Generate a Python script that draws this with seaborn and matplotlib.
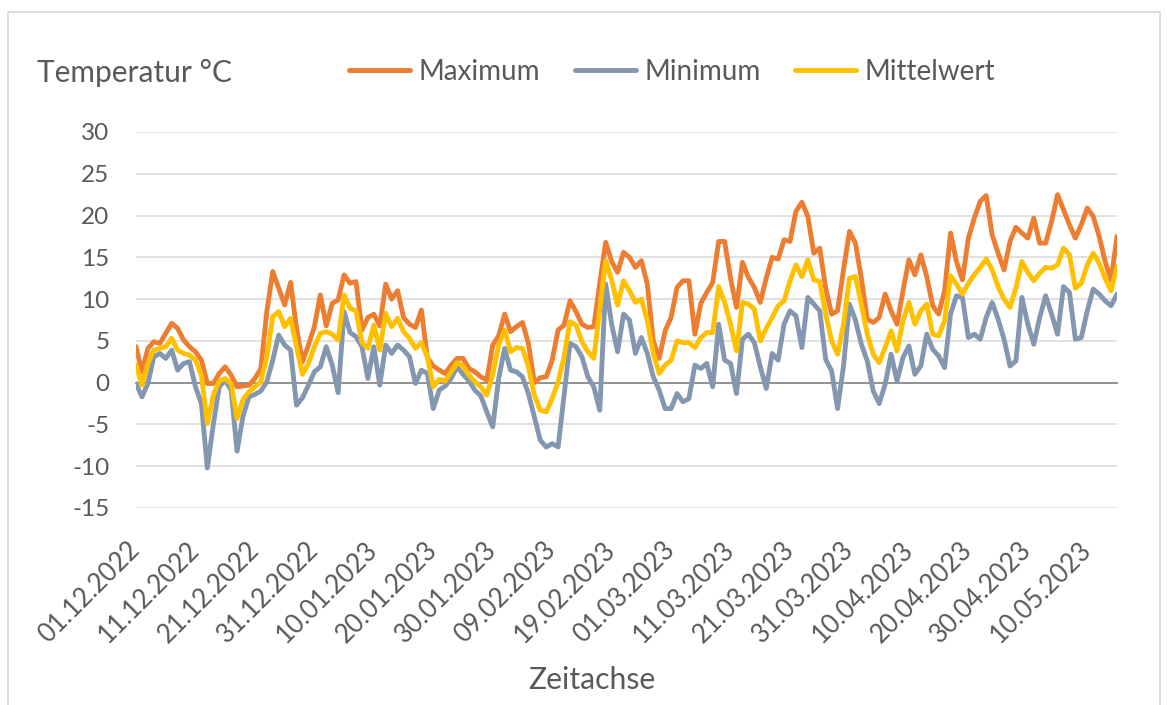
import numpy as np
import pandas as pd
import matplotlib
matplotlib.use("Agg")
import matplotlib.pyplot as plt
from matplotlib.lines import Line2D
from matplotlib.patches import Rectangle
import seaborn as sns

# ---------------- data ----------------
start_date = "2022-12-01"

maximum = [
    4.3, 1.3, 4.1, 4.9, 4.7, 5.9, 7.1, 6.5, 5.1, 4.3,
    3.7, 2.7, -0.1, -0.1, 1.1, 1.9, 0.9, -0.5, -0.4, -0.3,
    0.5, 1.7, 8.5, 13.3, 11.3, 9.3, 12.0, 6.5, 2.5, 4.5,
    6.7, 10.5, 6.8, 9.5, 9.9, 12.9, 11.9, 12.1, 6.3, 7.8,
    8.2, 6.8, 11.8, 10.0, 11.0, 7.8, 7.0, 6.6, 8.7, 3.0,
    2.0, 1.5, 1.1, 2.1, 2.9, 2.9, 1.7, 1.3, 0.7, 0.3,
    4.5, 5.6, 8.2, 6.1, 6.7, 7.2, 4.7, 0.0, 0.6, 0.7,
    2.7, 6.3, 6.9, 9.8, 8.5, 7.0, 6.6, 6.7, 11.9, 16.8,
    14.5, 13.2, 15.6, 15.0, 13.8, 14.6, 11.8, 5.0, 2.9, 6.2,
    7.8, 11.4, 12.2, 12.2, 5.8, 9.5, 10.8, 12.0, 16.9, 16.9,
    12.5, 9.0, 14.4, 12.6, 11.4, 9.6, 12.5, 15.0, 14.8, 17.1,
    16.9, 20.5, 21.6, 19.9, 15.5, 16.1, 11.3, 8.2, 8.6, 13.5,
    18.1, 16.7, 12.5, 7.6, 7.2, 7.8, 10.6, 8.6, 7.0, 11.0,
    14.7, 12.9, 15.3, 12.7, 9.2, 8.2, 11.0, 17.9, 14.5, 12.3,
    17.3, 19.7, 21.7, 22.4, 17.7, 15.5, 13.5, 16.9, 18.6, 17.9,
    17.3, 19.7, 16.7, 16.7, 19.3, 22.5, 20.7, 18.9, 17.3, 18.9,
    20.9, 19.9, 17.5, 14.5, 12.3, 17.5,
]

minimum = [
    -0.1, -1.7, -0.1, 3.1, 3.5, 2.9, 3.9, 1.5, 2.3, 2.5,
    -0.5, -2.5, -10.2, -5.0, -0.5, 0.3, -0.9, -8.2, -4.0, -1.7,
    -1.4, -1.0, 0.1, 2.7, 5.7, 4.5, 3.9, -2.7, -1.8, -0.3,
    1.3, 1.9, 4.3, 2.1, -1.2, 8.5, 6.0, 5.5, 4.3, 0.5,
    4.3, -0.3, 4.5, 3.5, 4.5, 3.9, 3.1, -0.1, 1.5, 1.1,
    -3.1, -0.9, -0.4, 0.5, 1.9, 1.0, 0.2, -0.9, -1.6, -3.5,
    -5.3, 0.5, 4.1, 1.5, 1.3, 0.7, -1.3, -4.1, -6.9, -7.7,
    -7.3, -7.7, -1.5, 4.7, 4.3, 3.1, 0.7, -0.5, -3.3, 11.8,
    7.0, 3.7, 8.2, 7.5, 3.5, 5.4, 3.5, 0.7, -0.9, -3.1,
    -3.1, -1.3, -2.3, -1.9, 2.1, 1.7, 2.3, -0.5, 7.0, 2.7,
    2.3, -1.3, 5.2, 5.8, 4.8, 1.9, -0.7, 3.5, 2.7, 7.0,
    8.6, 8.0, 4.2, 10.2, 9.4, 8.6, 2.8, 1.4, -3.1, 2.0,
    9.4, 7.5, 4.6, 2.6, -1.0, -2.5, -0.2, 3.4, 0.2, 3.0,
    4.4, 1.0, 2.0, 5.8, 4.0, 3.2, 1.8, 8.2, 10.4, 10.2,
    5.4, 5.8, 5.2, 7.8, 9.6, 7.6, 5.2, 2.0, 2.6, 10.2,
    7.0, 4.6, 7.8, 10.4, 8.2, 5.8, 11.5, 10.8, 5.2, 5.4,
    8.6, 11.2, 10.6, 9.8, 9.2, 10.6,
]

mittelwert = [
    2.1, -0.3, 2.3, 3.9, 4.1, 4.3, 5.3, 3.9, 3.5, 3.3,
    2.7, 0.9, -4.9, -1.5, 0.2, 0.5, -0.1, -4.3, -2.0, -1.1,
    -0.5, 0.1, 3.1, 7.9, 8.5, 6.7, 7.7, 4.3, 1.0, 2.3,
    4.3, 5.9, 6.1, 5.8, 5.1, 10.5, 8.9, 8.6, 4.8, 4.1,
    6.9, 3.9, 8.3, 6.7, 7.7, 6.1, 5.3, 4.1, 4.8, 3.1,
    -0.5, 0.4, 0.2, 1.3, 2.4, 2.0, 0.9, 0.1, -0.5, -1.5,
    1.0, 4.5, 6.3, 3.7, 4.2, 4.1, 1.9, -1.5, -3.3, -3.5,
    -1.9, 0.1, 3.1, 7.3, 6.9, 4.9, 3.7, 2.9, 8.7, 14.6,
    12.3, 9.3, 12.2, 11.0, 9.6, 10.0, 7.4, 3.5, 1.1, 2.1,
    2.7, 5.0, 4.8, 4.8, 4.2, 5.4, 6.0, 6.0, 11.5, 9.6,
    7.0, 3.8, 9.6, 9.4, 8.8, 5.0, 6.5, 7.8, 9.2, 9.8,
    12.2, 14.1, 12.7, 14.7, 12.3, 12.1, 8.2, 5.0, 3.4, 7.0,
    12.5, 12.7, 9.4, 5.8, 3.4, 2.4, 4.2, 6.2, 3.8, 7.4,
    9.6, 7.0, 8.6, 9.4, 5.8, 5.6, 7.4, 12.8, 11.8, 10.6,
    11.9, 12.9, 13.8, 14.8, 13.5, 11.5, 10.0, 9.0, 11.3, 14.5,
    13.2, 12.2, 13.1, 13.8, 13.7, 14.1, 16.1, 15.3, 11.3, 11.9,
    14.1, 15.5, 14.3, 12.5, 11.0, 13.9,
]

series_names = ["Maximum", "Minimum", "Mittelwert"]
series_colors = ["#ED7D31", "#8497B0", "#FFC000"]

tick_labels = [
    "01.12.2022", "11.12.2022", "21.12.2022", "31.12.2022", "10.01.2023",
    "20.01.2023", "30.01.2023", "09.02.2023", "19.02.2023", "01.03.2023",
    "11.03.2023", "21.03.2023", "31.03.2023", "10.04.2023", "20.04.2023",
    "30.04.2023", "10.05.2023",
]
y_ticks = [30, 25, 20, 15, 10, 5, 0, -5, -10, -15]

y_title = "Temperatur °C"
x_title = "Zeitachse"

# ---------------- build table ----------------
n = len(maximum)
day_index = np.arange(n)
df = pd.DataFrame({
    "Tag": np.tile(day_index, 3),
    "Temperatur": maximum + minimum + mittelwert,
    "Reihe": np.repeat(series_names, n),
})
start = pd.Timestamp(start_date)
tick_pos = [(pd.to_datetime(t, format="%d.%m.%Y") - start).days for t in tick_labels]

# ---------------- style ----------------
sns.set_theme(style="white")
plt.rcParams["font.family"] = ["Lato", "DejaVu Sans"]
text_color = "#595959"

W, H = 1167, 705
fig = plt.figure(figsize=(W / 100, H / 100), dpi=100)
fig.patch.set_facecolor("white")

ax = fig.add_axes([136 / W, 1 - 508 / H, (1117 - 136) / W, (508 - 132) / H])

palette = dict(zip(series_names, series_colors))
sns.lineplot(data=df, x="Tag", y="Temperatur", hue="Reihe", hue_order=series_names,
             palette=palette, linewidth=3.5, errorbar=None, legend=False, ax=ax,
             solid_joinstyle="round", solid_capstyle="round", zorder=3)

ax.set_xlim(0, n - 1)
ax.set_ylim(-15, 30)
ax.set_xlabel("")
ax.set_ylabel("")

# gridlines
ax.set_yticks(y_ticks)
ax.set_yticklabels([str(v) for v in y_ticks])
ax.yaxis.grid(True, color="#D9D9D9", linewidth=1.1)
ax.xaxis.grid(False)
ax.set_axisbelow(True)
ax.tick_params(axis="y", length=0, pad=19, labelsize=17.5, labelcolor=text_color)

for s in ["top", "right", "left"]:
    ax.spines[s].set_visible(False)

# horizontal axis line at zero with tick marks
ax.spines["bottom"].set_position(("data", 0))
ax.spines["bottom"].set_color("#8C8C8C")
ax.spines["bottom"].set_linewidth(1.3)
ax.spines["bottom"].set_zorder(1.5)
ax.set_xticks(tick_pos)
ax.tick_params(axis="x", direction="out", length=6, width=1.3, color="#8C8C8C",
               labelbottom=False)

# date labels at the bottom of the plot area
sec = ax.secondary_xaxis("bottom")
sec.set_xticks(tick_pos, labels=tick_labels)
sec.tick_params(length=0, pad=27, labelsize=18.5, labelcolor=text_color)
sec.spines["bottom"].set_visible(False)
for lab in sec.get_xticklabels():
    lab.set_rotation(45)
    lab.set_ha("right")
    lab.set_va("center")
    lab.set_rotation_mode("anchor")

# titles
fig.text(37 / W, 1 - 73 / H, y_title, ha="left", va="center", fontsize=21.5, color=text_color)
fig.text(592 / W, 1 - 680 / H, x_title, ha="center", va="center", fontsize=21.7, color=text_color)

# legend
handles = [Line2D([0], [0], color=c, lw=3.5, solid_capstyle="round") for c in series_colors]
fig.legend(handles, series_names, loc="center left", bbox_to_anchor=(349 / W, 1 - 72 / H),
           ncol=3, frameon=False, fontsize=20, labelcolor=text_color,
           handlelength=2.2, handletextpad=0.3, columnspacing=1.25,
           borderpad=0, borderaxespad=0)

# chart area border
fig.patches.append(Rectangle((8 / W, -0.02), (1160 - 8) / W, (H - 12) / H + 0.02,
                             transform=fig.transFigure, fill=False,
                             edgecolor="#D9D9D9", linewidth=1.3))

fig.savefig("out.png", dpi=100, facecolor="white")
